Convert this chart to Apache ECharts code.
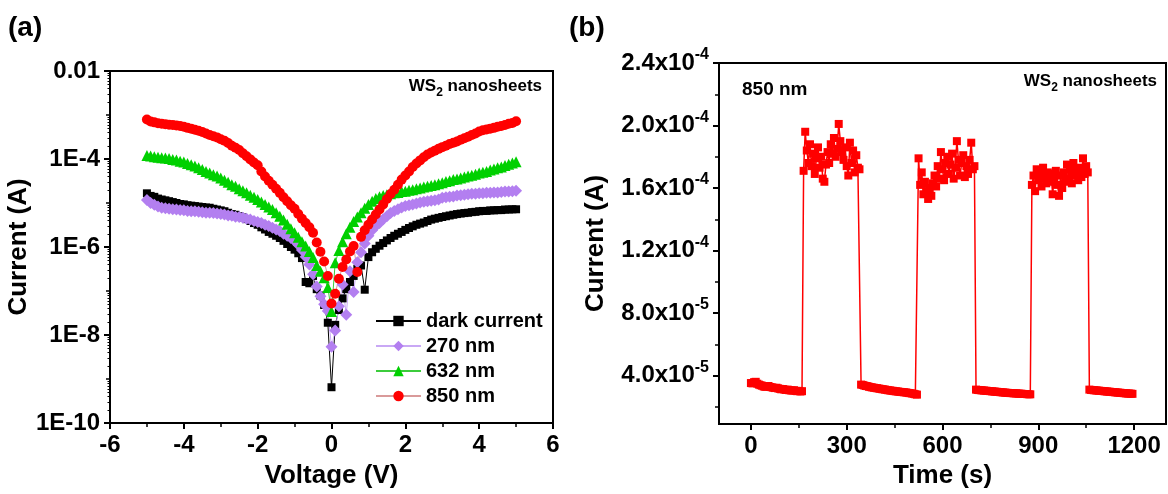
<!DOCTYPE html>
<html>
<head>
<meta charset="utf-8">
<script src="https://cdn.jsdelivr.net/npm/echarts@6/dist/echarts.min.js"></script>
<style>
html,body{margin:0;padding:0;background:#fff;}
#chart{width:1168px;height:494px;}
</style>
</head>
<body>
<div id="chart"></div>
<script>
// ---------- Panel (a): I-V curves ----------
const voltage = [-5.0,-4.9,-4.8,-4.7,-4.6,-4.5,-4.4,-4.3,-4.2,-4.1,-4.0,-3.9,-3.8,-3.7,-3.6,-3.5,-3.4,-3.3,-3.2,-3.1,-3.0,-2.9,-2.8,-2.7,-2.6,-2.5,-2.4,-2.3,-2.2,-2.1,-2.0,-1.9,-1.8,-1.7,-1.6,-1.5,-1.4,-1.3,-1.2,-1.1,-1.0,-0.9,-0.8,-0.7,-0.6,-0.5,-0.4,-0.3,-0.2,-0.1,0.0,0.1,0.2,0.3,0.4,0.5,0.6,0.7,0.8,0.9,1.0,1.1,1.2,1.3,1.4,1.5,1.6,1.7,1.8,1.9,2.0,2.1,2.2,2.3,2.4,2.5,2.6,2.7,2.8,2.9,3.0,3.1,3.2,3.3,3.4,3.5,3.6,3.7,3.8,3.9,4.0,4.1,4.2,4.3,4.4,4.5,4.6,4.7,4.8,4.9,5.0];

const darkCurrent = [1.66e-5,1.45e-5,1.38e-5,1.26e-5,1.2e-5,1.15e-5,1.1e-5,1.05e-5,1.0e-5,9.5e-6,
9.3e-6,8.9e-6,8.7e-6,8.5e-6,8.3e-6,8.1e-6,7.9e-6,7.8e-6,7.4e-6,7.1e-6,
6.8e-6,6.5e-6,6.0e-6,5.6e-6,5.4e-6,5.0e-6,4.7e-6,4.3e-6,3.9e-6,3.5e-6,
3.2e-6,2.8e-6,2.5e-6,2.2e-6,2.0e-6,1.8e-6,1.6e-6,1.38e-6,1.17e-6,1.0e-6,
8.7e-7,7.2e-7,5.6e-7,1.6e-7,1.5e-7,2.2e-7,1.1e-7,7.9e-8,4.8e-8,1.9e-8,
6.5e-10,1.7e-8,3.7e-8,6.8e-8,1.1e-7,1.6e-7,2.2e-7,3.2e-7,3.8e-7,1.07e-7,
5.9e-7,7.6e-7,9.1e-7,1.07e-6,1.23e-6,1.41e-6,1.6e-6,1.8e-6,2.0e-6,2.2e-6,
2.45e-6,2.7e-6,2.95e-6,3.2e-6,3.4e-6,3.6e-6,3.9e-6,4.2e-6,4.4e-6,4.6e-6,
4.8e-6,5.0e-6,5.2e-6,5.4e-6,5.6e-6,5.75e-6,5.9e-6,6.0e-6,6.2e-6,6.3e-6,
6.5e-6,6.6e-6,6.6e-6,6.8e-6,6.8e-6,6.9e-6,6.9e-6,7.1e-6,7.1e-6,7.2e-6,7.2e-6];

const nm270 = [1.17e-5,1.0e-5,9.1e-6,8.3e-6,7.8e-6,7.6e-6,7.4e-6,7.2e-6,7.1e-6,6.9e-6,
6.8e-6,6.6e-6,6.5e-6,6.5e-6,6.3e-6,6.2e-6,6.0e-6,6.0e-6,5.9e-6,5.75e-6,
5.6e-6,5.5e-6,5.2e-6,5.1e-6,4.9e-6,4.8e-6,4.6e-6,4.4e-6,4.2e-6,3.9e-6,
3.7e-6,3.5e-6,3.2e-6,3.0e-6,2.75e-6,2.5e-6,2.3e-6,2.0e-6,1.8e-6,1.6e-6,
1.38e-6,1.12e-6,8.5e-7,6.0e-7,4.0e-7,2.4e-7,1.26e-7,7.6e-8,5.0e-8,3.5e-8,
5.4e-9,1.26e-8,4.5e-8,1.4e-7,2.9e-8,2.8e-7,9.5e-8,4.5e-7,7.6e-7,1.2e-6,
1.8e-6,2.4e-6,3.0e-6,3.5e-6,4.3e-6,5.0e-6,5.9e-6,6.6e-6,7.2e-6,7.9e-6,
8.5e-6,8.9e-6,9.3e-6,9.8e-6,1.02e-5,1.07e-5,1.1e-5,1.12e-5,1.15e-5,1.2e-5,
1.32e-5,1.35e-5,1.38e-5,1.41e-5,1.48e-5,1.51e-5,1.55e-5,1.58e-5,1.62e-5,1.62e-5,
1.66e-5,1.66e-5,1.7e-5,1.7e-5,1.74e-5,1.74e-5,1.78e-5,1.82e-5,1.82e-5,1.86e-5,1.9e-5];

const nm632 = [1.2e-4,1.17e-4,1.12e-4,1.1e-4,1.07e-4,1.05e-4,1.02e-4,9.8e-5,9.5e-5,8.9e-5,
8.5e-5,7.9e-5,7.4e-5,6.9e-5,6.3e-5,5.8e-5,5.2e-5,4.8e-5,4.4e-5,4.1e-5,
3.7e-5,3.3e-5,2.95e-5,2.6e-5,2.4e-5,2.1e-5,1.9e-5,1.7e-5,1.5e-5,1.35e-5,
1.2e-5,1.05e-5,9.3e-6,8.1e-6,7.1e-6,6.0e-6,5.0e-6,4.1e-6,3.3e-6,2.6e-6,
2.1e-6,1.66e-6,1.32e-6,1.05e-6,7.9e-7,5.8e-7,3.8e-7,2.8e-7,2.0e-7,1.2e-7,
3.4e-8,4.4e-7,8.3e-7,1.32e-6,2.0e-6,2.8e-6,3.8e-6,4.8e-6,6.0e-6,7.6e-6,
9.3e-6,1.1e-5,1.26e-5,1.38e-5,1.48e-5,1.55e-5,1.62e-5,1.7e-5,1.74e-5,1.82e-5,
1.86e-5,1.95e-5,2.0e-5,2.1e-5,2.2e-5,2.3e-5,2.4e-5,2.5e-5,2.6e-5,2.75e-5,
2.9e-5,3.1e-5,3.2e-5,3.4e-5,3.5e-5,3.7e-5,3.9e-5,4.1e-5,4.3e-5,4.5e-5,
4.8e-5,5.0e-5,5.2e-5,5.6e-5,5.9e-5,6.3e-5,6.6e-5,7.1e-5,7.6e-5,8.1e-5,8.7e-5];

const nm850 = [7.9e-4,7.1e-4,6.8e-4,6.5e-4,6.3e-4,6.2e-4,6.0e-4,5.9e-4,5.8e-4,5.6e-4,
5.4e-4,5.1e-4,4.9e-4,4.6e-4,4.4e-4,4.1e-4,3.8e-4,3.5e-4,3.3e-4,3.1e-4,
2.8e-4,2.6e-4,2.3e-4,2.0e-4,1.8e-4,1.6e-4,1.35e-4,1.15e-4,9.8e-5,8.3e-5,
7.2e-5,5.2e-5,4.0e-5,3.2e-5,2.6e-5,2.1e-5,1.7e-5,1.35e-5,1.1e-5,8.9e-6,
7.4e-6,5.6e-6,4.4e-6,3.5e-6,2.8e-6,2.1e-6,1.26e-6,7.8e-7,4.7e-7,2.2e-7,
5.2e-8,8.7e-8,1.9e-7,3.5e-7,5.2e-7,7.9e-7,1.05e-6,2.7e-7,1.7e-6,2.4e-6,
3.2e-6,4.2e-6,5.5e-6,7.1e-6,9.3e-6,1.23e-5,1.6e-5,2.0e-5,2.6e-5,3.4e-5,
4.2e-5,5.2e-5,6.6e-5,7.9e-5,9.3e-5,1.1e-4,1.26e-4,1.4e-4,1.55e-4,1.7e-4,
1.86e-4,2.0e-4,2.2e-4,2.35e-4,2.5e-4,2.75e-4,2.95e-4,3.2e-4,3.5e-4,3.8e-4,
4.2e-4,4.5e-4,4.7e-4,4.9e-4,5.1e-4,5.4e-4,5.6e-4,5.9e-4,6.3e-4,6.6e-4,7.2e-4];

const seriesNames = ['dark current', '270 nm', '632 nm', '850 nm'];
const leftYTickValues = [1e-10, 1e-8, 1e-6, 1e-4, 1e-2];
const leftYTickLabels = ['1E-10', '1E-8', '1E-6', '1E-4', '0.01'];
const leftYDecadeTicks = [1e-9, 1e-7, 1e-5, 1e-3];

// ---------- Panel (b): time response at 850 nm ----------
const timeS = [0,5,10,15,20,25,30,35,40,45,50,55,60,65,70,75,80,85,90,95,100,105,110,115,120,125,130,135,140,145,150,155,160,
165,170,175,180,185,190,195,200,205,210,215,220,225,230,235,240,245,250,255,260,265,270,275,280,285,290,295,300,305,310,315,320,325,330,335,340,
345,350,355,360,365,370,375,380,385,390,395,400,405,410,415,420,425,430,435,440,445,450,455,460,465,470,475,480,485,490,495,500,505,510,515,520,
525,530,535,540,545,550,555,560,565,570,575,580,585,590,595,600,605,610,615,620,625,630,635,640,645,650,655,660,665,670,675,680,685,690,695,700,
705,710,715,720,725,730,735,740,745,750,755,760,765,770,775,780,785,790,795,800,805,810,815,820,825,830,835,840,845,850,855,860,865,870,875,
880,885,890,895,900,905,910,915,920,925,930,935,940,945,950,955,960,965,970,975,980,985,990,995,1000,1005,1010,1015,1020,1025,1030,1035,1040,1045,1050,1055,
1060,1065,1070,1075,1080,1085,1090,1095,1100,1105,1110,1115,1120,1125,1130,1135,1140,1145,1150,1155,1160,1165,1170,1175,1180,1185,1190,1195];

const currentA = [
3.52e-5,3.50e-5,3.58e-5,3.60e-5,3.48e-5,3.42e-5,3.38e-5,3.35e-5,3.30e-5,3.28e-5,3.30e-5,3.33e-5,3.27e-5,3.25e-5,3.22e-5,3.20e-5,3.22e-5,3.18e-5,3.15e-5,3.12e-5,3.14e-5,3.10e-5,3.08e-5,3.10e-5,3.06e-5,3.05e-5,3.04e-5,3.06e-5,3.02e-5,3.00e-5,3.02e-5,2.98e-5,3.00e-5,
17.1e-5,19.6e-5,18.4e-5,17.6e-5,18.8e-5,17.4e-5,18.2e-5,16.9e-5,17.9e-5,18.6e-5,17.3e-5,18.0e-5,16.6e-5,16.4e-5,17.5e-5,18.3e-5,17.6e-5,18.8e-5,18.2e-5,19.2e-5,18.0e-5,18.5e-5,20.1e-5,19.0e-5,18.3e-5,17.8e-5,18.6e-5,17.4e-5,16.8e-5,18.9e-5,17.6e-5,18.4e-5,17.0e-5,18.1e-5,17.3e-5,17.2e-5,
3.42e-5,3.40e-5,3.36e-5,3.33e-5,3.32e-5,3.28e-5,3.26e-5,3.24e-5,3.22e-5,3.20e-5,3.19e-5,3.17e-5,3.15e-5,3.13e-5,3.12e-5,3.10e-5,3.08e-5,3.06e-5,3.05e-5,3.03e-5,3.02e-5,3.00e-5,2.99e-5,2.98e-5,2.96e-5,2.95e-5,2.94e-5,2.93e-5,2.92e-5,2.90e-5,2.88e-5,2.87e-5,2.85e-5,2.83e-5,2.80e-5,2.78e-5,
17.9e-5,16.2e-5,17.0e-5,15.6e-5,16.4e-5,15.8e-5,15.3e-5,16.0e-5,15.5e-5,16.3e-5,16.8e-5,16.1e-5,17.4e-5,16.6e-5,18.3e-5,17.2e-5,16.5e-5,17.6e-5,18.0e-5,16.9e-5,17.5e-5,18.2e-5,16.6e-5,17.3e-5,19.0e-5,17.8e-5,16.8e-5,17.6e-5,18.1e-5,16.7e-5,17.4e-5,16.9e-5,17.8e-5,18.9e-5,17.2e-5,17.4e-5,
3.10e-5,3.08e-5,3.07e-5,3.06e-5,3.05e-5,3.04e-5,3.03e-5,3.02e-5,3.01e-5,3.00e-5,2.99e-5,2.98e-5,2.97e-5,2.96e-5,2.95e-5,2.94e-5,2.93e-5,2.92e-5,2.91e-5,2.90e-5,2.89e-5,2.88e-5,2.88e-5,2.87e-5,2.86e-5,2.86e-5,2.85e-5,2.84e-5,2.84e-5,2.83e-5,2.82e-5,2.82e-5,2.81e-5,2.80e-5,2.80e-5,
16.2e-5,16.8e-5,15.8e-5,17.2e-5,16.5e-5,16.9e-5,16.1e-5,17.3e-5,16.6e-5,16.3e-5,17.0e-5,16.4e-5,16.9e-5,15.6e-5,16.7e-5,17.1e-5,16.2e-5,15.5e-5,16.8e-5,16.0e-5,17.0e-5,16.4e-5,17.5e-5,16.6e-5,17.2e-5,16.3e-5,17.6e-5,16.8e-5,17.1e-5,16.5e-5,17.3e-5,16.7e-5,17.9e-5,16.9e-5,17.4e-5,17.0e-5,
3.10e-5,3.08e-5,3.07e-5,3.06e-5,3.05e-5,3.04e-5,3.03e-5,3.02e-5,3.01e-5,3.00e-5,2.99e-5,2.98e-5,2.97e-5,2.96e-5,2.95e-5,2.94e-5,2.93e-5,2.92e-5,2.91e-5,2.90e-5,2.89e-5,2.88e-5,2.87e-5,2.86e-5,2.85e-5,2.85e-5,2.84e-5,2.83e-5];

const rightXTickValues = [0, 300, 600, 900, 1200];
const rightXMinorTicks = [150, 450, 750, 1050];
const rightYTickValues = [4e-5, 8e-5, 1.2e-4, 1.6e-4, 2.0e-4, 2.4e-4];
const rightYTickMantissa = ['4.0', '8.0', '1.2', '1.6', '2.0', '2.4'];
const rightYTickExponent = ['-5', '-5', '-4', '-4', '-4', '-4'];
const rightYMinorTicks = [2e-5, 6e-5, 1.0e-4, 1.4e-4, 1.8e-4, 2.2e-4];

// log sub-ticks (2..9 x 10^n) for the left y axis
const leftYSubTicks = [];
for (let e = -10; e < -2; e++) for (let m = 2; m <= 9; m++) leftYSubTicks.push(m * Math.pow(10, e));

const FONT = '"Liberation Sans", Arial, Helvetica, sans-serif';
const BLACK = '#000';

function nearestIndex(arr, v) {
  let best = 0, bd = Infinity;
  arr.forEach((a, i) => { const d = Math.abs(Math.log(a) - Math.log(v)); if (d < bd) { bd = d; best = i; } });
  return best;
}

const chart = echarts.init(document.getElementById('chart'), null, {renderer: 'canvas'});

const mainLine = {show: true, onZero: false, lineStyle: {color: BLACK, width: 2}};
const noLine = {show: false, onZero: false};

const option = {
  animation: false,
  backgroundColor: '#fff',
  grid: [
    {left: 110, top: 71, width: 443, height: 355, show: true, borderColor: BLACK, borderWidth: 2, backgroundColor: 'transparent'},
    {left: 719, top: 63, width: 447, height: 361, show: true, borderColor: BLACK, borderWidth: 2, backgroundColor: 'transparent'}
  ],
  legend: {
    data: seriesNames,
    orient: 'vertical',
    left: 375,
    top: 311,
    padding: 0,
    itemWidth: 45,
    itemHeight: 13,
    itemGap: 5,
    selectedMode: false,
    textStyle: {fontFamily: FONT, fontWeight: 'bold', fontSize: 20, color: BLACK, lineHeight: 20}
  },
  xAxis: [
    {
      gridIndex: 0, type: 'value', min: -6, max: 6, interval: 2, position: 'bottom',
      axisLine: mainLine, splitLine: {show: false},
      axisTick: {show: true, inside: false, length: 6, lineStyle: {color: BLACK, width: 2}},
      minorTick: {show: true, splitNumber: 2, length: 4, lineStyle: {color: BLACK, width: 1.5}},
      axisLabel: {margin: 10, fontFamily: FONT, fontWeight: 'bold', fontSize: 24, color: BLACK},
      name: 'Voltage (V)', nameLocation: 'middle', nameGap: 40,
      nameTextStyle: {fontFamily: FONT, fontWeight: 'bold', fontSize: 26, color: BLACK}
    },
    {
      gridIndex: 1, type: 'value', min: -100, max: 1300, position: 'bottom',
      axisLine: mainLine, splitLine: {show: false},
      axisTick: {show: true, length: 6, customValues: rightXTickValues, lineStyle: {color: BLACK, width: 2}},
      axisLabel: {margin: 10, customValues: rightXTickValues, fontFamily: FONT, fontWeight: 'bold', fontSize: 24, color: BLACK,
        formatter: v => String(Math.round(v))},
      name: 'Time (s)', nameLocation: 'middle', nameGap: 39,
      nameTextStyle: {fontFamily: FONT, fontWeight: 'bold', fontSize: 26, color: BLACK}
    },
    {
      gridIndex: 1, type: 'value', min: -100, max: 1300, position: 'bottom', offset: 0,
      axisLine: noLine, splitLine: {show: false}, axisLabel: {show: false},
      axisTick: {show: true, length: 4, customValues: rightXMinorTicks, lineStyle: {color: BLACK, width: 1.5}}
    }
  ],
  yAxis: [
    {
      gridIndex: 0, type: 'log', logBase: 10, min: 1e-10, max: 1e-2, position: 'left',
      axisLine: mainLine, splitLine: {show: false},
      axisTick: {show: true, length: 6, customValues: leftYTickValues, lineStyle: {color: BLACK, width: 2}},
      axisLabel: {
        margin: 10, customValues: leftYTickValues, fontFamily: FONT, fontWeight: 'bold', fontSize: 24, color: BLACK,
        formatter: v => leftYTickLabels[nearestIndex(leftYTickValues, v)]
      },
      name: 'Current (A)', nameLocation: 'middle', nameGap: 72,
      nameTextStyle: {fontFamily: FONT, fontWeight: 'bold', fontSize: 26, color: BLACK}
    },
    {
      gridIndex: 0, type: 'log', logBase: 10, min: 1e-10, max: 1e-2, position: 'left', offset: 0,
      axisLine: noLine, splitLine: {show: false}, axisLabel: {show: false},
      axisTick: {show: true, length: 4, customValues: leftYDecadeTicks, lineStyle: {color: BLACK, width: 1.5}}
    },
    {
      gridIndex: 0, type: 'log', logBase: 10, min: 1e-10, max: 1e-2, position: 'left', offset: 0,
      axisLine: noLine, splitLine: {show: false}, axisLabel: {show: false},
      axisTick: {show: true, length: 2.5, customValues: leftYSubTicks, lineStyle: {color: BLACK, width: 1}}
    },
    {
      gridIndex: 1, type: 'value', min: 0.9e-5, max: 2.4e-4, position: 'left',
      axisLine: mainLine, splitLine: {show: false},
      axisTick: {show: true, length: 6, customValues: rightYTickValues, lineStyle: {color: BLACK, width: 2}},
      axisLabel: {
        margin: 10, customValues: rightYTickValues, color: BLACK,
        formatter: v => {
          const i = nearestIndex(rightYTickValues, v);
          return '{m|' + rightYTickMantissa[i] + 'x10}{e|' + rightYTickExponent[i] + '}';
        },
        rich: {
          m: {fontFamily: FONT, fontWeight: 'bold', fontSize: 24, color: BLACK, lineHeight: 32},
          e: {fontFamily: FONT, fontWeight: 'bold', fontSize: 16, color: BLACK, lineHeight: 16, verticalAlign: 'top'}
        }
      },
      name: 'Current (A)', nameLocation: 'middle', nameGap: 110,
      nameTextStyle: {fontFamily: FONT, fontWeight: 'bold', fontSize: 26, color: BLACK}
    },
    {
      gridIndex: 1, type: 'value', min: 0.9e-5, max: 2.4e-4, position: 'left', offset: 0,
      axisLine: noLine, splitLine: {show: false}, axisLabel: {show: false},
      axisTick: {show: true, length: 4, customValues: rightYMinorTicks, lineStyle: {color: BLACK, width: 1.5}}
    }
  ],
  series: [
    {
      name: seriesNames[0], type: 'line', xAxisIndex: 0, yAxisIndex: 0,
      data: voltage.map((v, i) => [v, darkCurrent[i]]),
      symbol: 'rect', symbolSize: 8, itemStyle: {color: '#000000'},
      lineStyle: {color: '#000000', width: 1}
    },
    {
      name: seriesNames[1], type: 'line', xAxisIndex: 0, yAxisIndex: 0,
      data: voltage.map((v, i) => [v, nm270[i]]),
      symbol: 'diamond', symbolSize: 12, itemStyle: {color: '#b37ff0'},
      lineStyle: {color: '#c9a8f5', width: 1}
    },
    {
      name: seriesNames[2], type: 'line', xAxisIndex: 0, yAxisIndex: 0,
      data: voltage.map((v, i) => [v, nm632[i]]),
      symbol: 'triangle', symbolSize: 11, itemStyle: {color: '#00d000'},
      lineStyle: {color: '#3ccc3c', width: 1}
    },
    {
      name: seriesNames[3], type: 'line', xAxisIndex: 0, yAxisIndex: 0,
      data: voltage.map((v, i) => [v, nm850[i]]),
      symbol: 'circle', symbolSize: 10, itemStyle: {color: '#ff0000'},
      lineStyle: {color: '#d99a9a', width: 1}
    },
    {
      name: '850 nm response', type: 'line', xAxisIndex: 1, yAxisIndex: 3,
      data: timeS.map((t, i) => [t, currentA[i]]),
      symbol: 'rect', symbolSize: 8, itemStyle: {color: '#ff0000'},
      lineStyle: {color: '#ff0000', width: 1.5}
    }
  ],
  graphic: [
    {type: 'text', left: 8, top: 14, style: {text: '(a)', font: 'bold 28px ' + FONT, fill: BLACK}},
    {type: 'text', left: 569, top: 14, style: {text: '(b)', font: 'bold 28px ' + FONT, fill: BLACK}},
    {type: 'text', right: 626, top: 78, style: {
      text: '{a|WS}{b|2}{a| nanosheets}', fill: BLACK,
      rich: {a: {font: 'bold 17px ' + FONT, fill: BLACK, lineHeight: 24}, b: {font: 'bold 12px ' + FONT, fill: BLACK, lineHeight: 12, verticalAlign: 'bottom'}}
    }},
    {type: 'text', right: 11, top: 73, style: {
      text: '{a|WS}{b|2}{a| nanosheets}', fill: BLACK,
      rich: {a: {font: 'bold 17px ' + FONT, fill: BLACK, lineHeight: 24}, b: {font: 'bold 12px ' + FONT, fill: BLACK, lineHeight: 12, verticalAlign: 'bottom'}}
    }},
    {type: 'text', left: 742, top: 80, style: {text: '850 nm', font: 'bold 19px ' + FONT, fill: BLACK}}
  ]
};

chart.setOption(option);
</script>
</body>
</html>
